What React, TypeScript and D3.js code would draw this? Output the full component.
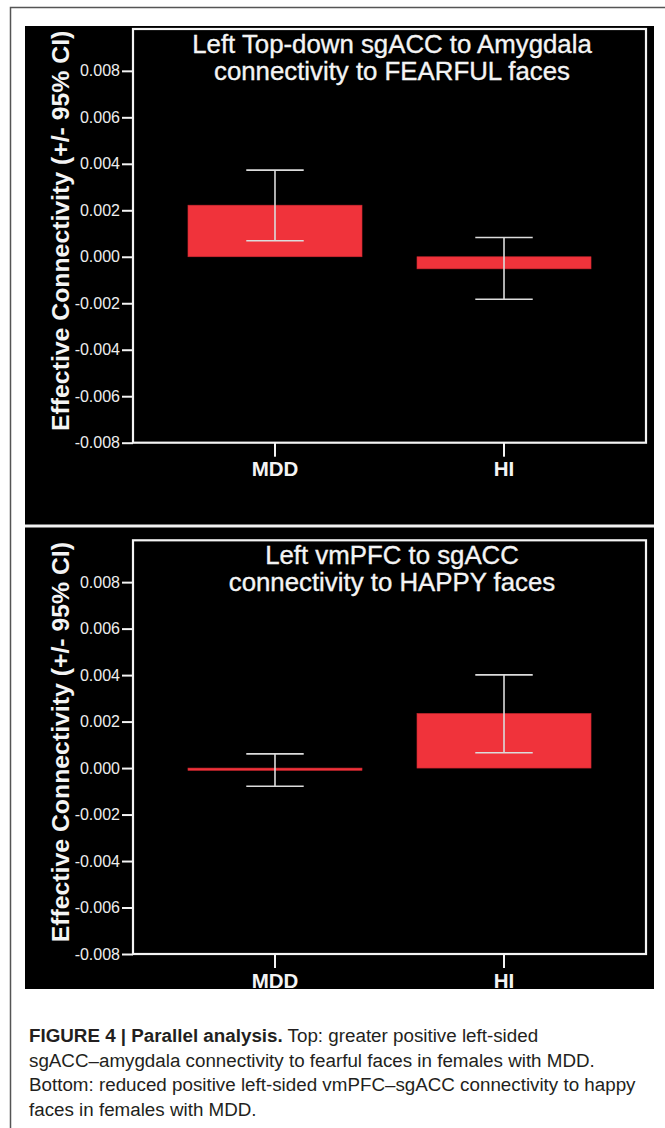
import { useEffect, useRef } from 'react';
import * as d3 from 'd3';

// groups on the x axis
const groups = ['MDD', 'HI'];

// top panel: sgACC -> amygdala, fearful faces
const fearfulMeans = [0.00222, -0.00052];
const fearfulLower = [0.00069, -0.00183];
const fearfulUpper = [0.00373, 0.00083];
const fearfulTitle = ['Left Top-down sgACC to Amygdala', 'connectivity to FEARFUL faces'];

// bottom panel: vmPFC -> sgACC, happy faces
const happyMeans = [-0.0001, 0.00235];
const happyLower = [-0.00078, 0.00066];
const happyUpper = [0.00061, 0.00401];
const happyTitle = ['Left vmPFC to sgACC', 'connectivity to HAPPY faces'];

const yTicks = [0.008, 0.006, 0.004, 0.002, 0, -0.002, -0.004, -0.006, -0.008];
const yLabel = 'Effective Connectivity (+/- 95% CI)';

const captionBold = 'FIGURE 4 | Parallel analysis.';
const captionLines = [
  ' Top: greater positive left-sided',
  'sgACC\u2013amygdala connectivity to fearful faces in females with MDD.',
  'Bottom: reduced positive left-sided vmPFC\u2013sgACC connectivity to happy',
  'faces in females with MDD.',
];

const FONT = '"Liberation Sans", Arial, Helvetica, sans-serif';

export default function App() {
  const svgRef = useRef<SVGSVGElement>(null);

  useEffect(() => {
    if (!svgRef.current) return;
    const svg = d3.select(svgRef.current);
    svg.selectAll('*').remove();

    const width = 665;
    const height = 1128;

    svg.append('rect').attr('width', width).attr('height', height).attr('fill', '#fff');

    // thin outer frame of the figure
    svg.append('path')
      .attr('d', `M10.5,${height} V7.5 H${width}`)
      .attr('fill', 'none')
      .attr('stroke', '#555')
      .attr('stroke-width', 1.5);

    // black backdrop of the two stacked panels
    svg.append('rect')
      .attr('x', 25).attr('y', 26)
      .attr('width', 629).attr('height', 963)
      .attr('fill', '#000');
    svg.append('rect')
      .attr('x', 25).attr('y', 524.5)
      .attr('width', 629).attr('height', 3)
      .attr('fill', '#f2f2f2');

    const defs = svg.append('defs');
    defs.append('clipPath').attr('id', 'panel-clip')
      .append('rect').attr('x', 25).attr('y', 26).attr('width', 629).attr('height', 963);

    const plotLeft = 133;
    const plotRight = 646;
    const plotBottom = 442.7;
    const plotTop = 29;

    const x = d3.scaleBand()
      .domain(groups)
      .range([plotLeft, plotRight])
      .paddingInner(0.24)
      .paddingOuter(0.24);

    const y = d3.scaleLinear()
      .domain([-0.008, 0.0098])
      .range([plotBottom, plotTop]);

    const panels = [
      { offset: 0, means: fearfulMeans, lower: fearfulLower, upper: fearfulUpper, title: fearfulTitle },
      { offset: 511.3, means: happyMeans, lower: happyLower, upper: happyUpper, title: happyTitle },
    ];

    const root = svg.append('g').attr('clip-path', 'url(#panel-clip)');

    panels.forEach(p => {
      const g = root.append('g').attr('transform', `translate(0,${p.offset})`);

      // bars
      g.selectAll('.bar')
        .data(groups)
        .enter().append('rect')
        .attr('class', 'bar')
        .attr('x', d => x(d) || 0)
        .attr('width', x.bandwidth())
        .attr('y', (d, i) => y(Math.max(0, p.means[i])))
        .attr('height', (d, i) => Math.abs(y(p.means[i]) - y(0)))
        .attr('fill', '#f0333b')
        .attr('stroke', '#c8262e')
        .attr('stroke-width', 0.6);

      // error bars
      const capW = x.bandwidth() * 0.33;
      const eb = g.selectAll('.err')
        .data(groups)
        .enter().append('g')
        .attr('class', 'err')
        .attr('stroke', '#dcdcdc')
        .attr('stroke-width', 1.6);
      eb.append('line')
        .attr('x1', d => (x(d) || 0) + x.bandwidth() / 2)
        .attr('x2', d => (x(d) || 0) + x.bandwidth() / 2)
        .attr('y1', (d, i) => y(p.upper[i]))
        .attr('y2', (d, i) => y(p.lower[i]));
      eb.append('line')
        .attr('x1', d => (x(d) || 0) + x.bandwidth() / 2 - capW / 2)
        .attr('x2', d => (x(d) || 0) + x.bandwidth() / 2 + capW / 2)
        .attr('y1', (d, i) => y(p.upper[i]))
        .attr('y2', (d, i) => y(p.upper[i]));
      eb.append('line')
        .attr('x1', d => (x(d) || 0) + x.bandwidth() / 2 - capW / 2)
        .attr('x2', d => (x(d) || 0) + x.bandwidth() / 2 + capW / 2)
        .attr('y1', (d, i) => y(p.lower[i]))
        .attr('y2', (d, i) => y(p.lower[i]));

      // plot frame
      g.append('rect')
        .attr('x', plotLeft)
        .attr('y', y(0.0098))
        .attr('width', plotRight - plotLeft)
        .attr('height', plotBottom - y(0.0098))
        .attr('fill', 'none')
        .attr('stroke', '#f4f4f4')
        .attr('stroke-width', 2.2);

      // y axis
      const yAxis = g.append('g')
        .attr('transform', `translate(${plotLeft},0)`)
        .call(d3.axisLeft(y)
          .tickValues(yTicks)
          .tickSize(11)
          .tickSizeOuter(0)
          .tickPadding(2)
          .tickFormat(d => (+d).toFixed(3)));
      yAxis.select('.domain').remove();
      yAxis.selectAll('line').attr('stroke', '#f4f4f4').attr('stroke-width', 2);
      yAxis.selectAll('text')
        .attr('fill', '#eee')
        .style('font-family', FONT)
        .style('font-size', '16px');

      // x axis
      const xAxis = g.append('g')
        .attr('transform', `translate(0,${plotBottom})`)
        .call(d3.axisBottom(x).tickSize(14).tickSizeOuter(0).tickPadding(5));
      xAxis.select('.domain').remove();
      xAxis.selectAll('line').attr('stroke', '#f4f4f4').attr('stroke-width', 2);
      xAxis.selectAll('text')
        .attr('fill', '#f4f4f4')
        .style('font-family', FONT)
        .style('font-size', '20.5px')
        .style('font-weight', 'bold');

      // y label
      g.append('text')
        .attr('transform', `translate(69,${(plotTop + plotBottom) / 2 - 5}) rotate(-90)`)
        .attr('text-anchor', 'middle')
        .attr('fill', '#f4f4f4')
        .style('font-family', FONT)
        .style('font-size', '24.8px')
        .style('font-weight', 'bold')
        .text(yLabel);

      // panel title
      g.selectAll('.title')
        .data(p.title)
        .enter().append('text')
        .attr('class', 'title')
        .attr('x', 392)
        .attr('y', (d, i) => 53 + i * 27)
        .attr('text-anchor', 'middle')
        .attr('fill', '#f4f4f4')
        .attr('stroke', '#f4f4f4')
        .attr('stroke-width', 0.35)
        .style('font-family', FONT)
        .style('font-size', '25.8px')
        .text(d => d);
    });

    // caption below the figure
    const cap = svg.append('g')
      .attr('fill', '#231f20')
      .style('font-family', FONT)
      .style('font-size', '18.8px');
    captionLines.forEach((line, i) => {
      const t = cap.append('text').attr('x', 29).attr('y', 1042 + i * 24.7);
      if (i === 0) {
        t.append('tspan').style('font-weight', 'bold').text(captionBold);
      }
      t.append('tspan').text(line);
    });
  }, []);

  return (
    <svg
      ref={svgRef}
      width={665}
      height={1128}
      style={{ position: 'absolute', left: 0, top: 0, display: 'block' }}
    />
  );
}
